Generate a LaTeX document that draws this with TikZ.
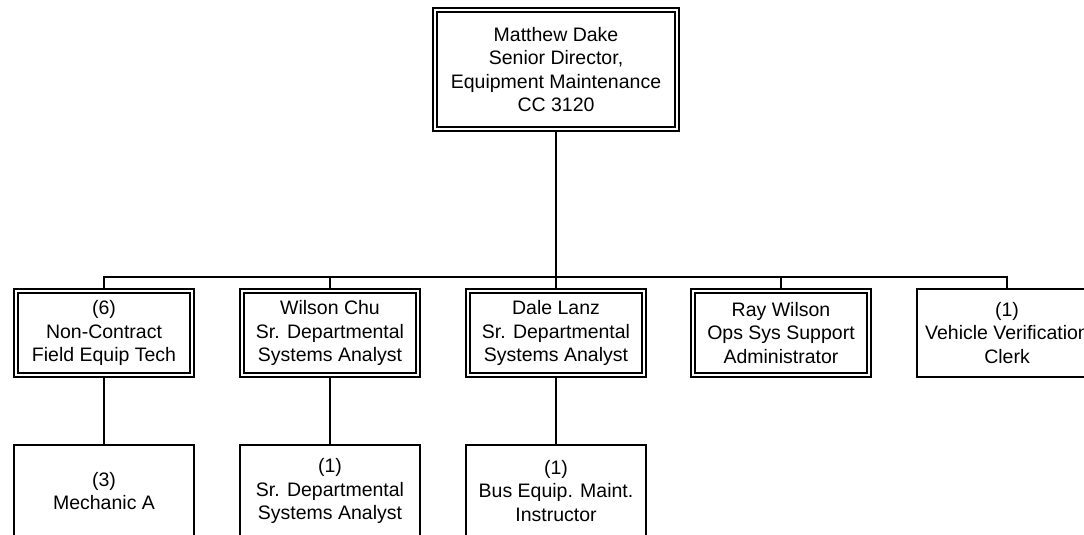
\documentclass[tikz,border=0pt]{standalone}
\usepackage{fontspec}
\setmainfont{Liberation Sans}
\usetikzlibrary{backgrounds}
\begin{document}
\begin{tikzpicture}[x=1pt,y=-1pt,
  base/.style={align=center, font=\fontsize{19.5}{23.5}\selectfont, fill=white, inner sep=0pt},
  dbox/.style={base, draw, line width=2pt, double=white, double distance=2pt, minimum width=176pt, minimum height=84pt},
  sbox/.style={base, draw, line width=2pt, minimum width=180pt, minimum height=88pt},
  link/.style={line width=2pt}]
\useasboundingbox (0,0) rectangle (1084,535);
\clip (0,0) rectangle (1084,535);
\node[dbox, minimum width=242pt, minimum height=119pt] (top) at (556,69.5) {Matthew Dake\\Senior Director,\\Equipment Maintenance\\CC 3120};
\node[dbox] (n1) at (104,333) {(6)\\Non-Contract\\Field Equip Tech};
\node[dbox] (n2) at (330,333) {Wilson Chu\\Sr. Departmental\\Systems Analyst};
\node[dbox] (n3) at (556,333) {Dale Lanz\\Sr. Departmental\\Systems Analyst};
\node[dbox] (n4) at (781,333) {Ray Wilson\\Ops Sys Support\\Administrator};
\node[sbox] (n5) at (1007,333) {(1)\\Vehicle Verification\\Clerk};
\node[sbox, minimum height=92pt] (m1) at (104,491) {(3)\\Mechanic A};
\node[sbox, minimum height=92pt] (m2) at (330,491) {(1)\\Sr. Departmental\\Systems Analyst};
\node[sbox, minimum height=92pt] (m3) at (556,491) {(1)\\Bus Equip. Maint.\\Instructor};
\coordinate (bus) at (556,277);
\begin{scope}[on background layer]
\draw[link] (top.south) -- (n3.north);
\draw[link] (bus) -| (n1.north);
\draw[link] (bus) -| (n2.north);
\draw[link] (bus) -| (n4.north);
\draw[link] (bus) -| (n5.north);
\draw[link] (n1.south) -- (m1.north);
\draw[link] (n2.south) -- (m2.north);
\draw[link] (n3.south) -- (m3.north);
\end{scope}
\end{tikzpicture}
\end{document}
